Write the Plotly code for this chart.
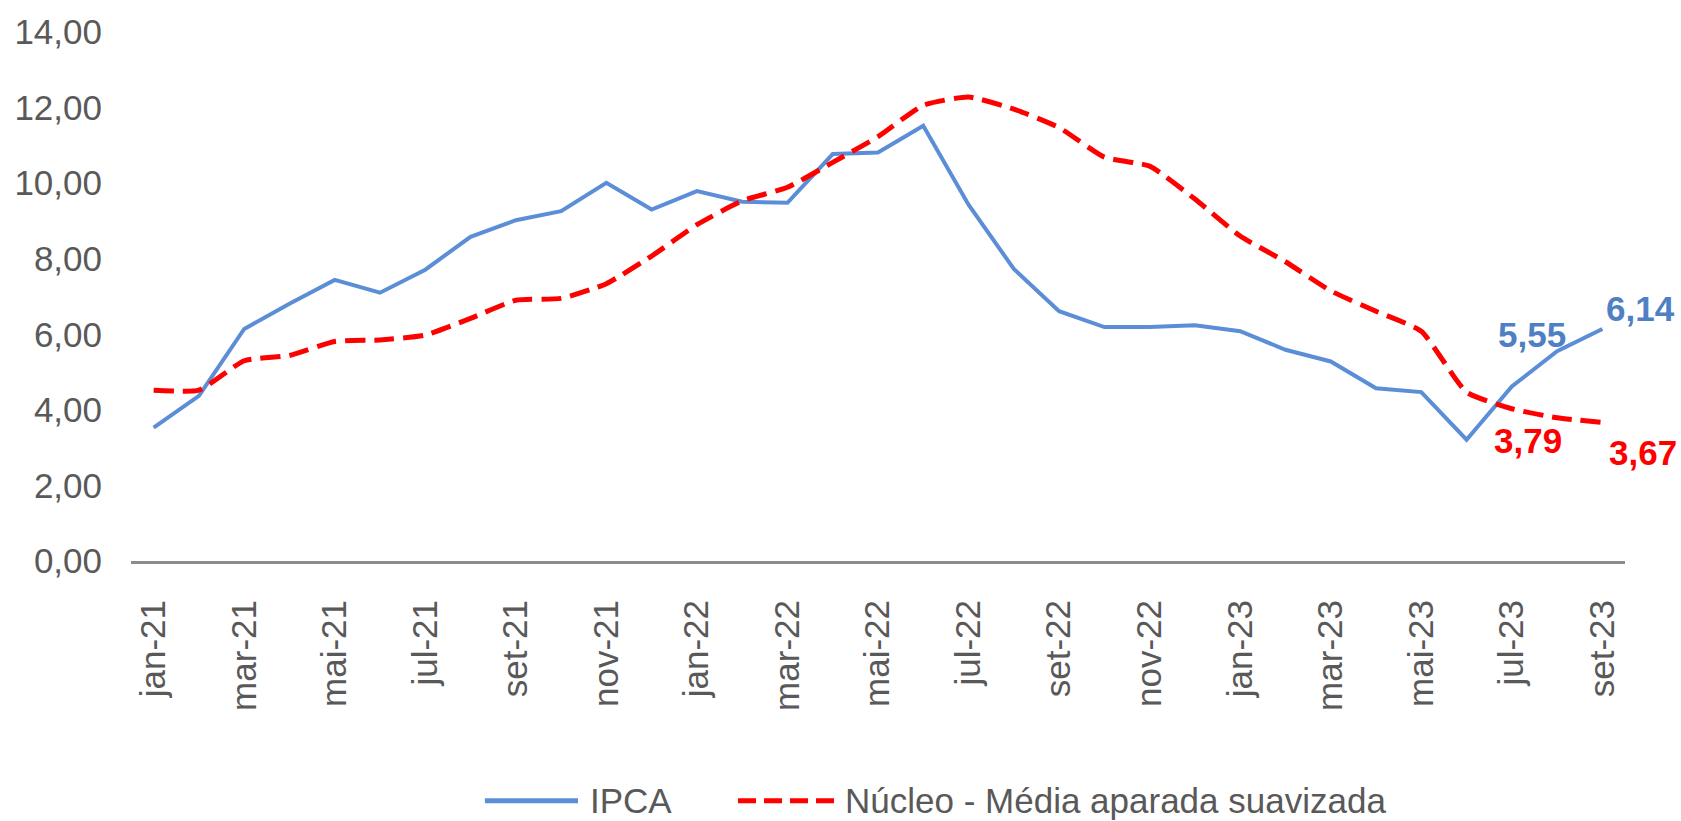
import plotly.graph_objects as go

months = ["jan-21","fev-21","mar-21","abr-21","mai-21","jun-21","jul-21","ago-21","set-21","out-21","nov-21","dez-21",
          "jan-22","fev-22","mar-22","abr-22","mai-22","jun-22","jul-22","ago-22","set-22","out-22","nov-22","dez-22",
          "jan-23","fev-23","mar-23","abr-23","mai-23","jun-23","jul-23","ago-23","set-23"]

ipca = [3.53, 4.37, 6.14, 6.81, 7.44, 7.10, 7.71, 8.58, 9.02, 9.26, 10.01, 9.30,
        9.79, 9.51, 9.48, 10.77, 10.81, 11.52, 9.43, 7.73, 6.61, 6.19, 6.19, 6.24,
        6.08, 5.59, 5.28, 4.57, 4.47, 3.21, 4.62, 5.55, 6.14]

nucleo = [4.52, 4.52, 5.30, 5.44, 5.81, 5.85, 5.98, 6.42, 6.90, 6.95, 7.34, 8.07,
          8.90, 9.53, 9.89, 10.55, 11.23, 12.06, 12.28, 11.96, 11.47, 10.69, 10.45, 9.58,
          8.60, 7.92, 7.15, 6.61, 6.08, 4.47, 4.03, 3.79, 3.67]

tick_labels = months[::2]
y_ticks = [0, 2, 4, 6, 8, 10, 12, 14]

BLUE = "#5B8ED6"
BLUE_TXT = "#5080C4"
RED = "#FF0000"
GREY = "#595959"
FONT = "Liberation Sans, Arial, sans-serif"

fig = go.Figure()
fig.add_trace(go.Scatter(x=months, y=ipca, mode="lines", name="IPCA",
                         line=dict(color=BLUE, width=4), showlegend=False))
fig.add_trace(go.Scatter(x=months, y=nucleo, mode="lines", name="Núcleo - Média aparada suavizada",
                         line=dict(color=RED, width=5, dash="20px,9px", shape="spline", smoothing=0.5),
                         showlegend=False))

def fmt(v):
    return f"{v:.2f}".replace(".", ",")

# data labels (last two points of each series)
label_specs = [
    (ipca, 31, BLUE_TXT, -25, 17),
    (ipca, 32, BLUE_TXT, 38, 21),
    (nucleo, 31, RED, -29, -23),
    (nucleo, 32, RED, 41, -30),
]
for series, i, col, xs, ys in label_specs:
    fig.add_annotation(x=months[i], y=series[i], text=fmt(series[i]), showarrow=False,
                       xshift=xs, yshift=ys,
                       font=dict(family=FONT, size=35, color=col, weight="bold"))

# custom legend (long line samples as in reference)
leg_y = -0.453
fig.add_shape(type="line", xref="paper", yref="paper", x0=0.2369, x1=0.2992, y0=leg_y, y1=leg_y,
              line=dict(color=BLUE, width=5))
fig.add_annotation(xref="paper", yref="paper", x=0.3060, y=leg_y, text="IPCA", showarrow=False,
                   xanchor="left", yanchor="middle", font=dict(family=FONT, size=35, color=GREY))
fig.add_shape(type="line", xref="paper", yref="paper", x0=0.4063, x1=0.4726, y0=leg_y, y1=leg_y,
              line=dict(color=RED, width=5, dash="18px,8px"))
fig.add_annotation(xref="paper", yref="paper", x=0.4767, y=leg_y, text="Núcleo - Média aparada suavizada",
                   showarrow=False, xanchor="left", yanchor="middle",
                   font=dict(family=FONT, size=35, color=GREY))

fig.update_layout(
    width=1681, height=821,
    margin=dict(l=131, r=56, t=27, b=260),
    paper_bgcolor="white", plot_bgcolor="white",
    separators=",.",
    font=dict(family=FONT, size=35, color=GREY),
    showlegend=False,
)
fig.update_xaxes(type="category", categoryorder="array", categoryarray=months,
                 range=[-0.5, len(months) - 0.5],
                 tickmode="array", tickvals=tick_labels, ticktext=tick_labels,
                 tickangle=-90, showgrid=False, zeroline=False,
                 showline=True, linecolor="#8C8C8C", linewidth=3,
                 ticks="", ticklabelstandoff=22,
                 tickfont=dict(family=FONT, size=35, color=GREY))
fig.update_yaxes(range=[0, 14], tickmode="array", tickvals=y_ticks, tickformat=".2f",
                 showgrid=False, zeroline=False, showline=False,
                 ticks="", ticklabelstandoff=28,
                 tickfont=dict(family=FONT, size=35, color=GREY))

fig.write_html("out.html",
               config={"displayModeBar": False},
               post_script="document.body.style.margin='0';document.body.style.overflow='hidden';")
